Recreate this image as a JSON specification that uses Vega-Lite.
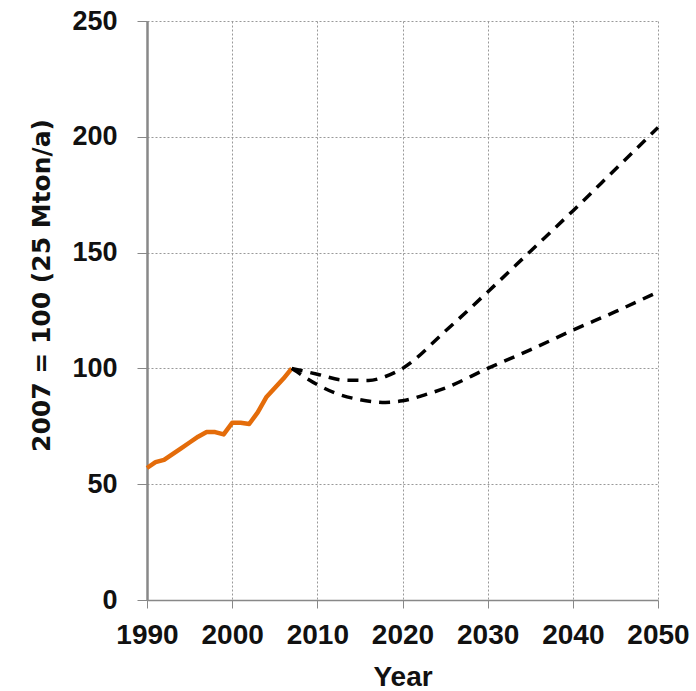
{
  "$schema": "https://vega.github.io/schema/vega-lite/v6.json",
  "width": 511,
  "height": 579,
  "autosize": {"type": "none"},
  "padding": {"left": 147, "top": 21, "right": 38, "bottom": 91},
  "background": "white",
  "config": {
    "view": {"stroke": null},
    "font": "Liberation Sans"
  },
  "data": {
    "values": [
      {"year": 1990, "value": 57, "series": "historic"},
      {"year": 1991, "value": 59.5, "series": "historic"},
      {"year": 1992, "value": 60.5, "series": "historic"},
      {"year": 1993, "value": 63, "series": "historic"},
      {"year": 1994, "value": 65.5, "series": "historic"},
      {"year": 1995, "value": 68, "series": "historic"},
      {"year": 1996, "value": 70.5, "series": "historic"},
      {"year": 1997, "value": 72.5, "series": "historic"},
      {"year": 1998, "value": 72.5, "series": "historic"},
      {"year": 1999, "value": 71.5, "series": "historic"},
      {"year": 2000, "value": 76.5, "series": "historic"},
      {"year": 2001, "value": 76.5, "series": "historic"},
      {"year": 2002, "value": 76, "series": "historic"},
      {"year": 2003, "value": 81, "series": "historic"},
      {"year": 2004, "value": 87.5, "series": "historic"},
      {"year": 2005, "value": 91.5, "series": "historic"},
      {"year": 2006, "value": 95.5, "series": "historic"},
      {"year": 2007, "value": 100, "series": "historic"},
      {"year": 2007, "value": 100, "series": "high"},
      {"year": 2010, "value": 97.5, "series": "high"},
      {"year": 2013, "value": 95, "series": "high"},
      {"year": 2016, "value": 94.8, "series": "high"},
      {"year": 2018, "value": 96.5, "series": "high"},
      {"year": 2020, "value": 100, "series": "high"},
      {"year": 2025, "value": 116, "series": "high"},
      {"year": 2030, "value": 133, "series": "high"},
      {"year": 2035, "value": 150.5, "series": "high"},
      {"year": 2040, "value": 168, "series": "high"},
      {"year": 2045, "value": 186, "series": "high"},
      {"year": 2050, "value": 204, "series": "high"},
      {"year": 2007, "value": 100, "series": "low"},
      {"year": 2010, "value": 93, "series": "low"},
      {"year": 2012, "value": 89.5, "series": "low"},
      {"year": 2015, "value": 86.5, "series": "low"},
      {"year": 2018, "value": 85.3, "series": "low"},
      {"year": 2020, "value": 86, "series": "low"},
      {"year": 2023, "value": 89, "series": "low"},
      {"year": 2025, "value": 91.5, "series": "low"},
      {"year": 2030, "value": 100, "series": "low"},
      {"year": 2035, "value": 108, "series": "low"},
      {"year": 2040, "value": 116.5, "series": "low"},
      {"year": 2045, "value": 124.5, "series": "low"},
      {"year": 2050, "value": 133, "series": "low"}
    ]
  },
  "encoding": {
    "x": {
      "field": "year",
      "type": "quantitative",
      "scale": {"domain": [1990, 2050], "nice": false, "zero": false},
      "axis": {
        "title": "Year",
        "values": [1990, 2000, 2010, 2020, 2030, 2040, 2050],
        "format": "d",
        "labelFlush": false,
        "labelOverlap": false,
        "labelBound": false,
        "labelFont": "Liberation Sans",
        "labelFontSize": 28,
        "labelFontWeight": "bold",
        "labelColor": "#111",
        "labelPadding": 13,
        "titleFont": "Liberation Sans",
        "titleFontSize": 28,
        "titleFontWeight": "bold",
        "titleColor": "#111",
        "titlePadding": 14,
        "domainColor": "#888",
        "domainWidth": 1.5,
        "tickColor": "#888",
        "tickSize": 8,
        "gridColor": "#999",
        "gridDash": [2, 2],
        "gridWidth": 1
      }
    },
    "y": {
      "field": "value",
      "type": "quantitative",
      "scale": {"domain": [0, 250], "nice": false},
      "axis": {
        "title": "2007 = 100 (25 Mton/a)",
        "values": [0, 50, 100, 150, 200, 250],
        "labelOverlap": false,
        "labelFlush": false,
        "labelFont": "Liberation Sans",
        "labelFontSize": 27,
        "labelFontWeight": "bold",
        "labelColor": "#111",
        "labelPadding": 20,
        "titleFont": "DejaVu Sans",
        "titleFontSize": 25,
        "titleFontWeight": "bold",
        "titleColor": "#111",
        "titlePadding": 17,
        "titleY": 264,
        "domainColor": "#888",
        "domainWidth": 2.5,
        "tickColor": "#888",
        "tickSize": 10,
        "gridColor": "#999",
        "gridDash": [2, 2],
        "gridWidth": 1
      }
    }
  },
  "layer": [
    {
      "transform": [{"filter": "datum.series === 'historic'"}],
      "mark": {"type": "line", "color": "#E46C0A", "strokeWidth": 4.5, "strokeJoin": "round"}
    },
    {
      "transform": [{"filter": "datum.series !== 'historic'"}],
      "mark": {"type": "line", "color": "#000", "strokeWidth": 3.5, "strokeDash": [11, 8], "interpolate": "monotone"},
      "encoding": {"detail": {"field": "series"}}
    }
  ]
}
